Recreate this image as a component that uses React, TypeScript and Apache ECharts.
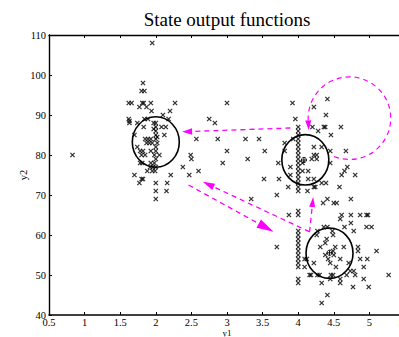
import React, { useEffect, useRef } from "react";
import * as echarts from "echarts";

// ---- data ----
const titleText = "State output functions";
const xName = "y1";
const yName = "y2";

const cluster1: number[][] = [
  [1.95, 108], [1.82, 98], [1.8, 96], [1.84, 96], [1.62, 93], [1.66, 93], [1.81, 93], [1.83, 93], [1.93, 93], [2.27, 93],
  [1.77, 92], [1.87, 92], [1.94, 91], [2.2, 91], [2.1, 90], [1.62, 89], [1.63, 88.5], [1.63, 88], [1.74, 88], [1.84, 89],
  [1.89, 89], [2.18, 89], [2.08, 87], [2.14, 87], [1.83, 87], [1.7, 85], [2.12, 85], [1.85, 84], [1.89, 84], [1.93, 84],
  [1.87, 83], [1.91, 83], [1.95, 83], [1.74, 82], [1.78, 81], [1.82, 81], [1.93, 81], [1.8, 80], [1.85, 80], [2.05, 80],
  [1.78, 78], [1.81, 78], [1.93, 78], [1.7, 75], [1.88, 76], [1.8, 74], [1.82, 74], [1.77, 73], [2.21, 75], [2.0, 73],
  [2.16, 73], [2.0, 71], [2.15, 71], [2.0, 69], [1.92, 77], [1.95, 76], [1.97, 88],
  [2.0, 88], [2.0, 87], [2.0, 86], [2.0, 85], [2.0, 84], [2.02, 83], [2.0, 82], [2.0, 81], [1.98, 80], [2.0, 79],
  [1.98, 78], [2.0, 77], [1.96, 77], [1.99, 76], [2.02, 84.5], [1.97, 86.5],
];

const between: number[][] = [
  [0.83, 80], [2.38, 77], [2.47, 75], [2.49, 80], [2.5, 79], [2.6, 76], [2.57, 84], [2.75, 89], [2.83, 88], [2.87, 84],
  [3.0, 93], [3.0, 81], [2.94, 78], [3.26, 84], [3.29, 79], [3.45, 84], [3.53, 81], [3.52, 74], [3.34, 69], [3.7, 70],
  [3.7, 57], [3.72, 78], [3.73, 74], [3.81, 83], [3.81, 81], [3.87, 65], [3.86, 72],
];

const cluster2: number[][] = [
  [3.92, 93], [3.96, 89], [4.06, 78], [4.06, 76], [3.89, 75], [3.89, 77], [3.93, 84], [4.22, 92], [4.41, 94], [4.39, 90],
  [4.2, 87], [4.28, 86], [4.36, 87], [4.38, 87], [4.46, 85], [4.6, 87], [4.33, 82], [4.22, 82], [4.45, 81], [4.67, 81],
  [4.22, 80], [4.26, 80], [4.19, 79], [4.26, 79], [4.45, 78], [4.14, 74], [4.22, 74], [4.22, 72], [4.24, 72], [4.33, 73],
  [4.39, 73], [4.13, 71], [4.69, 77], [4.65, 76], [4.61, 75], [4.8, 75], [4.58, 72], [4.74, 69], [4.35, 68], [4.5, 68],
  [4.54, 68], [4.41, 69], [4.0, 66], [4.0, 65], [4.14, 76],
  [4.0, 87], [4.0, 86], [4.0, 85], [4.0, 84], [4.0, 83], [4.0, 82], [4.0, 81], [4.0, 80], [4.0, 79], [4.0, 78],
  [4.0, 77], [4.0, 76], [4.0, 75], [4.0, 74], [4.0, 73], [4.0, 72], [4.0, 71],
];

const cluster3: number[][] = [
  [4.0, 61], [4.0, 60], [4.0, 59], [4.0, 58], [4.0, 57], [4.0, 56], [4.0, 55], [4.0, 54], [4.0, 53], [4.0, 52],
  [4.0, 49], [4.0, 48],
  [4.09, 54], [4.12, 54], [4.09, 52], [4.22, 53], [4.16, 50], [4.18, 50], [4.27, 50], [4.3, 50], [4.33, 48], [4.41, 45],
  [4.33, 43], [4.26, 60], [4.36, 62], [4.48, 61], [4.49, 60], [4.61, 65], [4.74, 65], [4.87, 65], [4.96, 65], [4.98, 65],
  [4.59, 64], [4.65, 62], [4.78, 61], [4.96, 62], [5.03, 62], [4.84, 57], [4.84, 56], [5.1, 56], [4.87, 54], [4.97, 54],
  [4.92, 52], [4.92, 49], [4.99, 47], [5.27, 50], [4.77, 47], [4.73, 51], [4.78, 51], [4.68, 50], [4.8, 50], [4.71, 53],
  [4.59, 49], [4.59, 48], [4.53, 52], [4.31, 57], [4.38, 58], [4.52, 57], [4.64, 57], [4.59, 54], [4.42, 54], [4.38, 55],
  [4.45, 53], [4.49, 50], [4.45, 49], [4.49, 56], [4.5, 55], [4.74, 63], [4.41, 62], [4.27, 61], [4.4, 59], [4.46, 50],
];

// state circles: [centre x, centre y, radius along x, radius along y] (data units)
const stateCircles: number[][] = [
  [2.0, 83.25, 0.33, 6.3],
  [4.1, 78.8, 0.33, 6.3],
  [4.44, 55.45, 0.33, 6.3],
];
// state centres marked with a circled plus
const stateCentres: number[][] = [
  [4.08, 78.75],
  [4.44, 55.55],
];
// transitions: [from x, from y, to x, to y]
const transitions: number[][] = [
  [3.89, 86.75, 2.37, 85.8],
  [2.46, 72.5, 3.655, 60.8],
  [4.16, 60.8, 2.66, 73.3],
  [4.16, 60.8, 4.21, 69.5],
];
// self transition loop: [centre x, centre y, radius along x]
const selfLoop: number[][] = [[4.72, 89.2, 0.58]];

// ---- styles ----
const MAGENTA = "#ff00ff";
const SERIF = "'Liberation Serif', 'DejaVu Serif', serif";
const HEAD_LEN = [10, 17, 12, 10];
const HEAD_HALF = [3.2, 4.6, 3.4, 3];

function arrowHead(tip: number[], dx: number, dy: number, len: number, half: number) {
  const bx = tip[0] - dx * len;
  const by = tip[1] - dy * len;
  const nx = -dy;
  const ny = dx;
  return {
    base: [bx, by],
    points: [
      [tip[0], tip[1]],
      [bx + nx * half, by + ny * half],
      [bx - nx * half, by - ny * half],
    ],
  };
}

export default function App() {
  const ref = useRef<HTMLDivElement>(null);
  useEffect(() => {
    if (!ref.current) return;
    const chart = echarts.init(ref.current, null, { renderer: "svg" });
    const xMark = "path://M0,0L10,10M10,0L0,10";
    const scatterStyle = {
      type: "scatter",
      symbol: xMark,
      symbolSize: 4.2,
      silent: true,
      itemStyle: { color: "rgba(0,0,0,0)", borderColor: "#000", borderWidth: 1.3 },
      z: 2,
    };
    const axisCommon = {
      type: "value",
      splitLine: { show: false },
      nameMoveOverlap: false,
      axisLine: { onZero: false, lineStyle: { color: "#000", width: 1.4 } },
      axisTick: { inside: true, length: 3, lineStyle: { color: "#000", width: 1 } },
    };
    const option: any = {
      animation: false,
      backgroundColor: "#fff",
      grid: { left: 49, top: 35, width: 356, height: 280, containLabel: false, outerBoundsMode: "none" },
      graphic: [
        {
          type: "text",
          x: 227,
          y: 19,
          style: {
            text: titleText,
            font: `19px ${SERIF}`,
            fill: "#000",
            textAlign: "center",
            textVerticalAlign: "middle",
          },
        },
      ],
      xAxis: [
        {
          ...axisCommon,
          position: "bottom",
          min: 0.5,
          max: 5.5,
          interval: 0.5,
          axisLine: { onZero: false, lineStyle: { color: "#000", width: 1.6 } },
          axisLabel: { color: "#000", fontFamily: SERIF, fontSize: 10.5, margin: 2 },
          name: xName,
          nameLocation: "middle",
          nameGap: 13,
          nameTextStyle: { color: "#000", fontFamily: SERIF, fontSize: 9 },
        },
        {
          ...axisCommon,
          position: "top",
          min: 0.5,
          max: 5.5,
          interval: 0.5,
          axisLabel: { show: false },
        },
      ],
      yAxis: [
        {
          ...axisCommon,
          position: "left",
          min: 40,
          max: 110,
          interval: 10,
          axisLabel: { color: "#000", fontFamily: SERIF, fontSize: 10.5, margin: 3 },
          name: yName,
          nameLocation: "middle",
          nameGap: 20,
          nameTextStyle: { color: "#000", fontFamily: SERIF, fontSize: 10.5 },
        },
        {
          ...axisCommon,
          position: "right",
          min: 40,
          max: 110,
          interval: 10,
          axisLabel: { show: false },
        },
      ],
      series: [
        { ...scatterStyle, name: "cluster1", data: cluster1 },
        { ...scatterStyle, name: "between", data: between },
        { ...scatterStyle, name: "cluster2", data: cluster2 },
        { ...scatterStyle, name: "cluster3", data: cluster3 },
        {
          type: "custom",
          name: "states",
          silent: true,
          z: 3,
          data: stateCircles,
          renderItem: (params: any, api: any) => {
            const c = api.coord([api.value(0), api.value(1)]);
            const s = api.size([api.value(2), api.value(3)]);
            return {
              type: "ellipse",
              shape: { cx: c[0], cy: c[1], rx: s[0], ry: s[1] },
              style: { fill: "none", stroke: "#000", lineWidth: 1.6 },
            };
          },
        },
        {
          type: "custom",
          name: "centres",
          silent: true,
          z: 3,
          data: stateCentres,
          renderItem: (params: any, api: any) => {
            const c = api.coord([api.value(0), api.value(1)]);
            const r = 2.6;
            return {
              type: "group",
              children: [
                { type: "circle", shape: { cx: c[0], cy: c[1], r }, style: { fill: "none", stroke: "#000", lineWidth: 0.9 } },
                { type: "line", shape: { x1: c[0] - r, y1: c[1], x2: c[0] + r, y2: c[1] }, style: { stroke: "#000", lineWidth: 0.9 } },
                { type: "line", shape: { x1: c[0], y1: c[1] - r, x2: c[0], y2: c[1] + r }, style: { stroke: "#000", lineWidth: 0.9 } },
              ],
            };
          },
        },
        {
          type: "custom",
          name: "transitions",
          silent: true,
          z: 4,
          data: transitions,
          renderItem: (params: any, api: any) => {
            const p1 = api.coord([api.value(0), api.value(1)]);
            const p2 = api.coord([api.value(2), api.value(3)]);
            const dx0 = p2[0] - p1[0];
            const dy0 = p2[1] - p1[1];
            const d = Math.sqrt(dx0 * dx0 + dy0 * dy0) || 1;
            const dx = dx0 / d;
            const dy = dy0 / d;
            const i = params.dataIndex;
            const head = arrowHead(p2, dx, dy, HEAD_LEN[i], HEAD_HALF[i]);
            return {
              type: "group",
              children: [
                {
                  type: "line",
                  shape: { x1: p1[0], y1: p1[1], x2: head.base[0], y2: head.base[1] },
                  style: { stroke: MAGENTA, lineWidth: 1.3, lineDash: [5, 4] },
                },
                { type: "polygon", shape: { points: head.points }, style: { fill: MAGENTA } },
              ],
            };
          },
        },
        {
          type: "custom",
          name: "selfLoop",
          silent: true,
          z: 4,
          data: selfLoop,
          renderItem: (params: any, api: any) => {
            const c = api.coord([api.value(0), api.value(1)]);
            const r = api.size([api.value(2), 0])[0];
            const a0 = (177 * Math.PI) / 180;
            const a1 = (477 * Math.PI) / 180;
            const base = [c[0] + r * Math.cos(a0), c[1] + r * Math.sin(a0)];
            const dx = Math.sin(a0);
            const dy = -Math.cos(a0);
            const tip = [base[0] + dx * 10, base[1] + dy * 10];
            const head = arrowHead(tip, dx, dy, 10, 3);
            return {
              type: "group",
              children: [
                {
                  type: "arc",
                  shape: { cx: c[0], cy: c[1], r, startAngle: a0, endAngle: a1, clockwise: true },
                  style: { fill: "none", stroke: MAGENTA, lineWidth: 1.2, lineDash: [5, 4] },
                },
                { type: "polygon", shape: { points: head.points }, style: { fill: MAGENTA } },
              ],
            };
          },
        },
      ],
    };
    chart.setOption(option);
    return () => chart.dispose();
  }, []);
  return (
    <div
      ref={ref}
      style={{ position: "absolute", left: 0, top: 0, width: 399, height: 337, background: "#fff" }}
    />
  );
}
